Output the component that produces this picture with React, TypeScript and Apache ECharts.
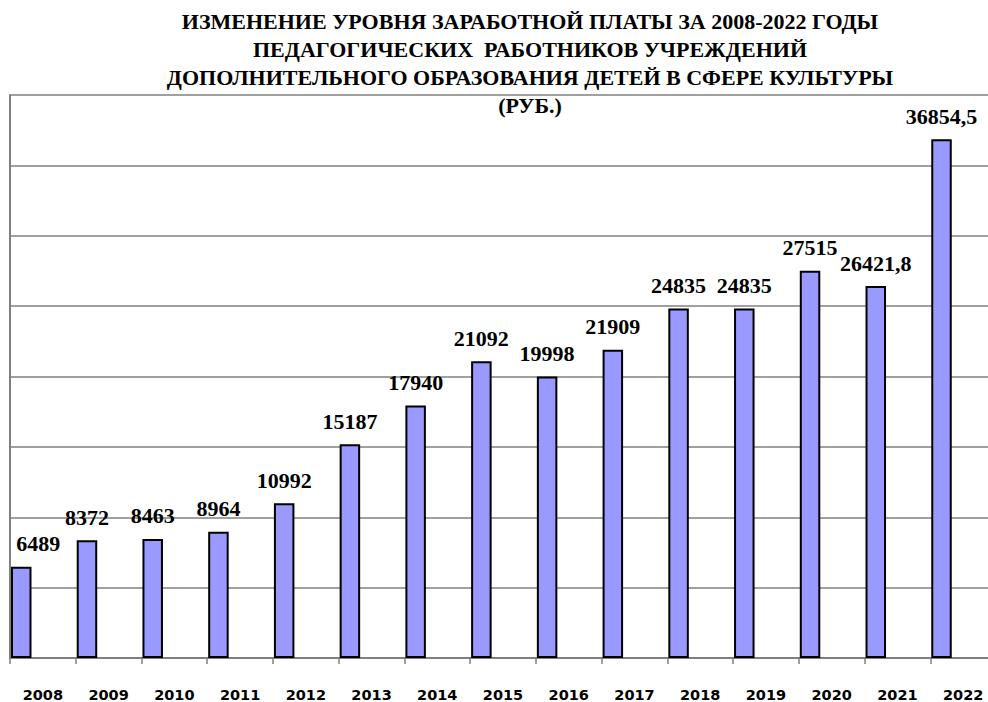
import React, { useEffect, useRef } from "react";
import * as echarts from "echarts";

const years = ["2008", "2009", "2010", "2011", "2012", "2013", "2014", "2015", "2016", "2017", "2018", "2019", "2020", "2021", "2022"];
const salaries = [6489, 8372, 8463, 8964, 10992, 15187, 17940, 21092, 19998, 21909, 24835, 24835, 27515, 26421.8, 36854.5];
const titleLines = [
  "ИЗМЕНЕНИЕ УРОВНЯ ЗАРАБОТНОЙ ПЛАТЫ ЗА 2008-2022 ГОДЫ",
  "ПЕДАГОГИЧЕСКИХ  РАБОТНИКОВ УЧРЕЖДЕНИЙ",
  "ДОПОЛНИТЕЛЬНОГО ОБРАЗОВАНИЯ ДЕТЕЙ В СФЕРЕ КУЛЬТУРЫ",
  "(РУБ.)",
];

export default function App() {
  const ref = useRef<HTMLDivElement>(null);
  useEffect(() => {
    if (!ref.current) return;
    const chart = echarts.init(ref.current, undefined, { renderer: "svg" });
    const serif = '"Liberation Serif", "Times New Roman", serif';
    chart.setOption({
      animation: false,
      backgroundColor: "#ffffff",
      grid: { left: 10, right: 0, top: 95, bottom: 44, containLabel: false },
      graphic: [
        {
          type: "text",
          x: 530,
          y: 7,
          z: 100,
          style: {
            text: titleLines.join("\n"),
            font: `bold 22px ${serif}`,
            fill: "#000",
            textAlign: "center",
            lineHeight: 28,
          },
        },
      ],
      xAxis: {
        type: "category",
        data: years,
        boundaryGap: true,
        axisLine: { show: true, lineStyle: { color: "#808080", width: 2 } },
        axisTick: { show: true, length: 6, lineStyle: { color: "#808080", width: 1.5 } },
        axisLabel: {
          margin: 29,
          color: "#000",
          fontFamily: '"DejaVu Sans", sans-serif',
          fontWeight: "bold",
          fontSize: 14.5,
        },
      },
      yAxis: {
        type: "value",
        min: 0,
        max: 40000,
        interval: 5000,
        axisLine: { show: true, lineStyle: { color: "#808080", width: 2 } },
        axisTick: { show: false },
        axisLabel: { show: false },
        splitLine: { show: true, lineStyle: { color: "#808080", width: 1.5 } },
      },
      series: [
        {
          type: "bar",
          data: salaries.map((v, i) =>
            i === 0 ? { value: v, label: { offset: [17, 0] } } : v
          ),
          barWidth: 20.5,
          barGap: "111%",
          itemStyle: { color: "#9999FF", borderColor: "#000", borderWidth: 2 },
          label: {
            show: true,
            position: "top",
            distance: 12,
            color: "#000",
            fontFamily: serif,
            fontWeight: "bold",
            fontSize: 22,
            formatter: (p: any) => String(p.value).replace(".", ","),
          },
        },
        {
          type: "bar",
          data: salaries.map(() => null),
          barWidth: 20.5,
          silent: true,
          itemStyle: { opacity: 0 },
          label: { show: false },
        },
      ],
    });
    return () => chart.dispose();
  }, []);
  return (
    <div
      style={{ position: "fixed", left: 0, top: 0, width: 988, height: 702, overflow: "hidden", background: "#fff" }}
    >
      <div ref={ref} style={{ width: 996, height: 702 }} />
    </div>
  );
}
